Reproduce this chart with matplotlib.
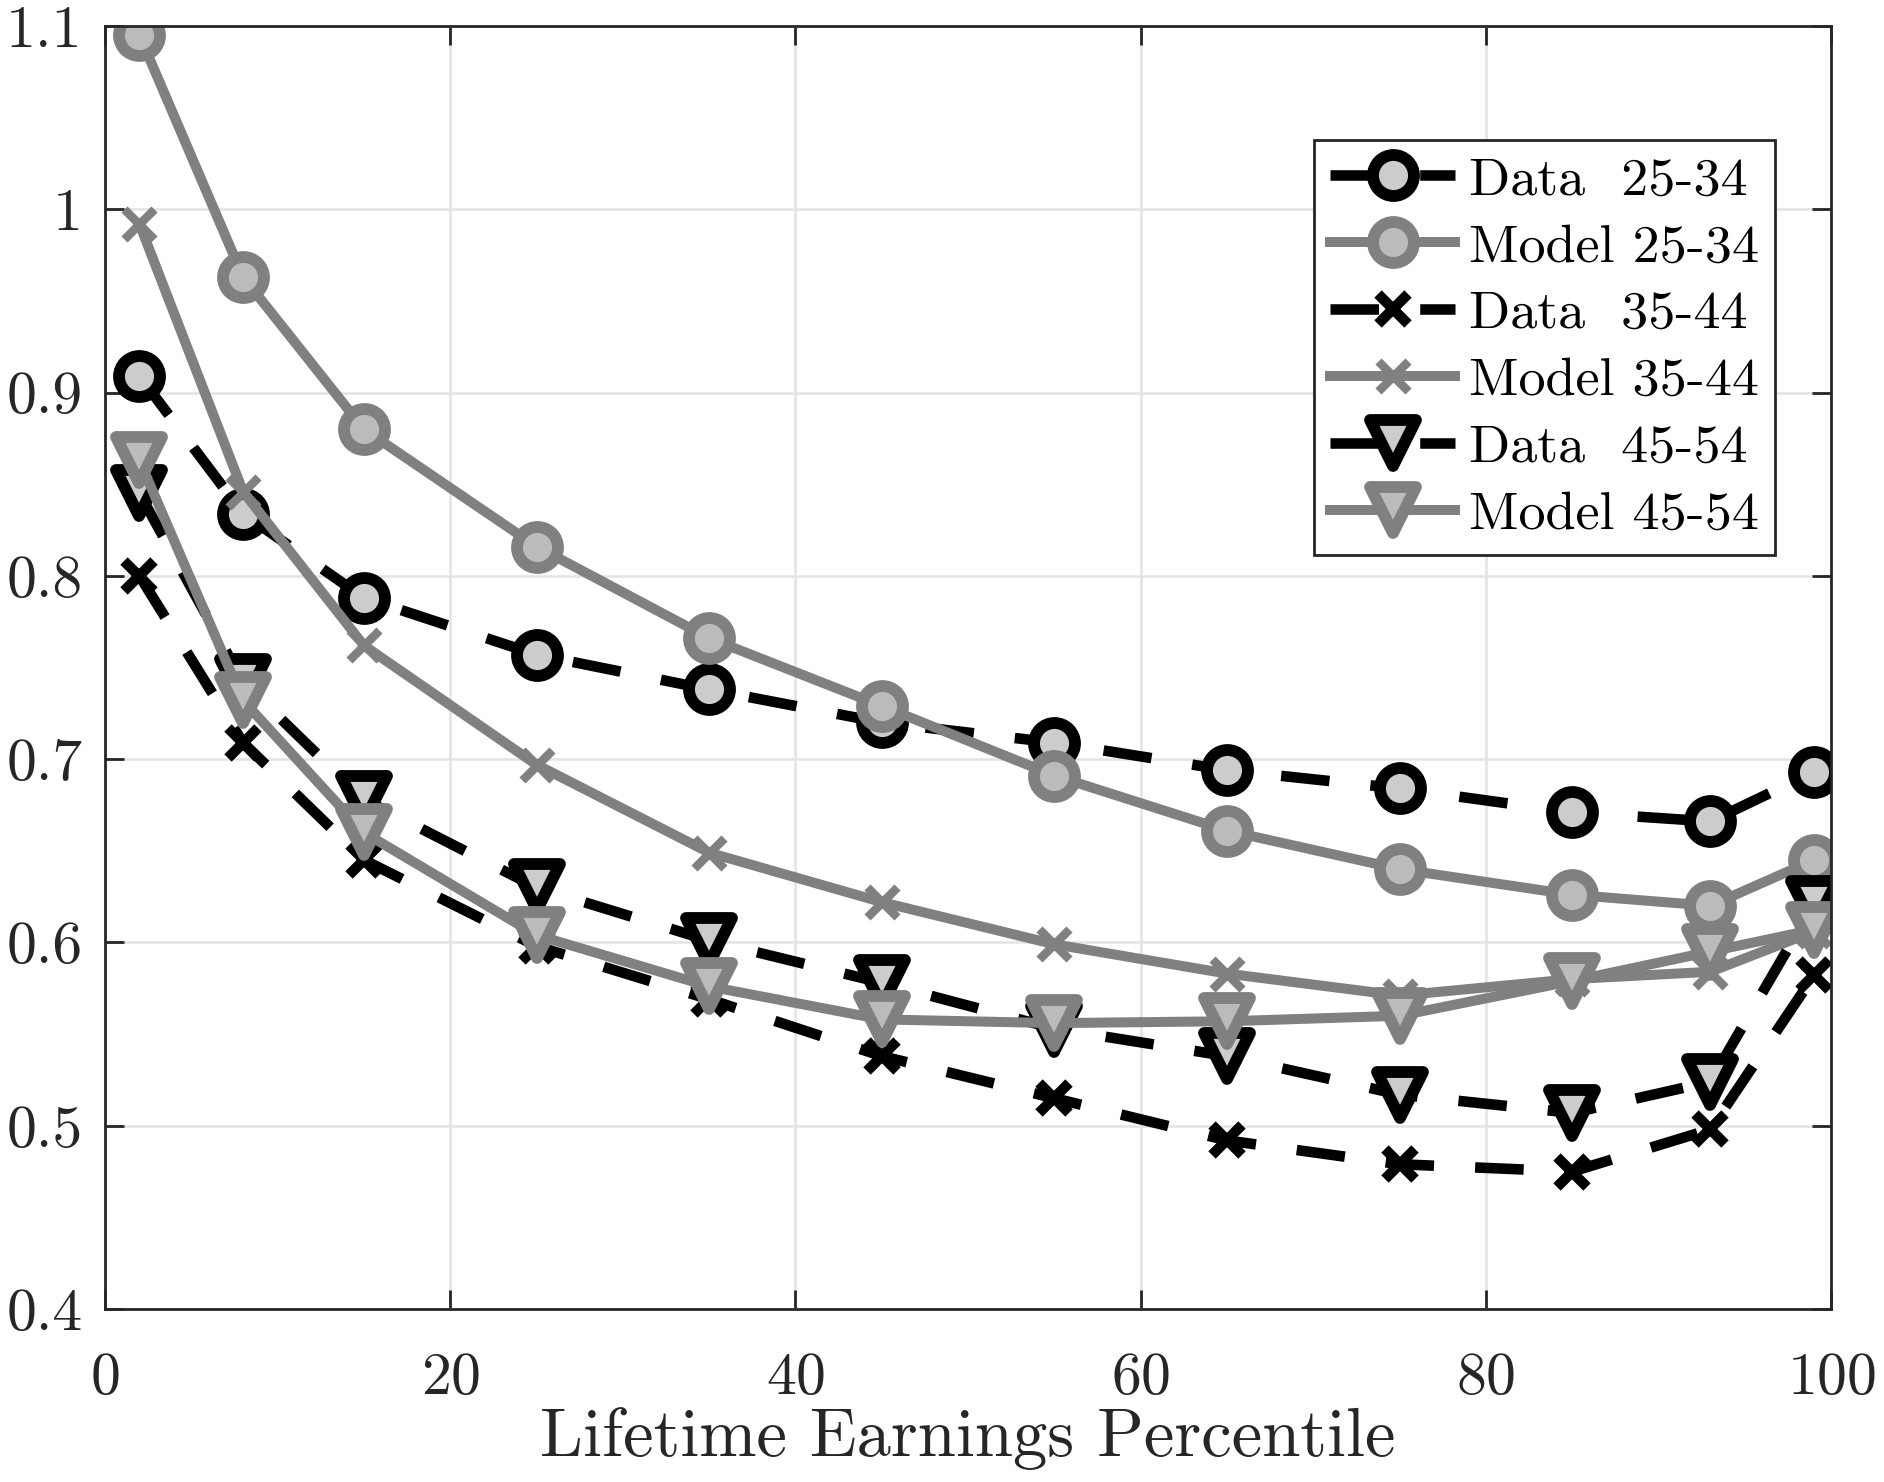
import matplotlib
matplotlib.use("Agg")
import matplotlib.pyplot as plt
from matplotlib.markers import MarkerStyle

plt.rcParams['font.family'] = ['cmr10', 'DejaVu Serif']
plt.rcParams['axes.formatter.use_mathtext'] = True

x = [2, 8, 15, 25, 35, 45, 55, 65, 75, 85, 93, 99]
data_25_34 = [0.909, 0.834, 0.788, 0.757, 0.738, 0.720, 0.709, 0.694, 0.684, 0.671, 0.666, 0.693]
model_25_34 = [1.095, 0.963, 0.880, 0.816, 0.766, 0.729, 0.691, 0.661, 0.640, 0.626, 0.620, 0.645]
data_35_44 = [0.800, 0.709, 0.645, 0.598, 0.569, 0.538, 0.515, 0.492, 0.479, 0.475, 0.498, 0.582]
model_35_44 = [0.992, 0.846, 0.762, 0.697, 0.649, 0.622, 0.599, 0.583, 0.571, 0.580, 0.584, 0.606]
data_45_54 = [0.845, 0.742, 0.678, 0.630, 0.601, 0.578, 0.553, 0.538, 0.517, 0.507, 0.524, 0.621]
model_45_54 = [0.863, 0.732, 0.660, 0.604, 0.576, 0.558, 0.556, 0.557, 0.560, 0.579, 0.595, 0.607]

labels = ['Data  25-34', 'Model 25-34', 'Data  35-44', 'Model 35-44', 'Data  45-54', 'Model 45-54']
xticks = [0, 20, 40, 60, 80, 100]
yticks = [0.4, 0.5, 0.6, 0.7, 0.8, 0.9, 1.0, 1.1]
yticklabels = ['0.4', '0.5', '0.6', '0.7', '0.8', '0.9', '1', '1.1']

fig = plt.figure(figsize=(18.84, 14.82), dpi=100)
ax = fig.add_axes([0.0557, 0.1167, 0.9163, 0.8658])

BLACK = 'black'
GRAY = '#808080'
DFACE = '#cccccc'
MFACE = '#bbbbbb'
dash = (4.6, 3.9)

circ = MarkerStyle('o')
tri = MarkerStyle('v', joinstyle='round')
xm = MarkerStyle('x', capstyle='butt')

LWD = 7.6
LWM = 7.2
ax.plot(x, data_25_34, color=BLACK, lw=LWD, dashes=dash, marker=circ, ms=29.5,
        mec=BLACK, mfc=DFACE, mew=8.5, label=labels[0])
ax.plot(x, model_25_34, color=GRAY, lw=LWM, marker=circ, ms=29.5,
        mec=GRAY, mfc=MFACE, mew=8.5, label=labels[1])
ax.plot(x, data_35_44, color=BLACK, lw=LWD, dashes=dash, marker=xm, ms=21.5,
        mec=BLACK, mew=7.5, label=labels[2])
ax.plot(x, model_35_44, color=GRAY, lw=LWM, marker=xm, ms=21.5,
        mec=GRAY, mew=6.2, label=labels[3])
ax.plot(x, data_45_54, color=BLACK, lw=LWD, dashes=dash, marker=tri, ms=33,
        mec=BLACK, mfc=DFACE, mew=8.5, label=labels[4])
ax.plot(x, model_45_54, color=GRAY, lw=LWM, marker=tri, ms=33,
        mec=GRAY, mfc=MFACE, mew=8.5, label=labels[5])

ax.set_xlim(0, 100)
ax.set_ylim(0.4, 1.1)
ax.set_xticks(xticks)
ax.set_yticks(yticks)
ax.set_yticklabels(yticklabels)
ax.grid(True, color='#e3e3e3', lw=1.8)
ax.set_axisbelow(True)
for s in ax.spines.values():
    s.set_color('#262626')
    s.set_linewidth(2)
ax.tick_params(direction='in', length=14, width=2, colors='#262626',
               labelsize=43, top=True, right=True)
ax.tick_params(axis='x', pad=31)
ax.tick_params(axis='y', pad=16)
ax.set_xlabel('Lifetime Earnings Percentile', fontsize=49.5, color='#262626', labelpad=1)

leg = ax.legend(loc='upper right', bbox_to_anchor=(0.9675, 0.911), fontsize=39,
                frameon=True, fancybox=False, edgecolor='#262626', framealpha=1,
                handlelength=2.3, handletextpad=0.26, borderpad=0.3, labelspacing=0.35,
                borderaxespad=0)
leg.get_frame().set_linewidth(2)

fig.savefig('out.png', dpi=100)
